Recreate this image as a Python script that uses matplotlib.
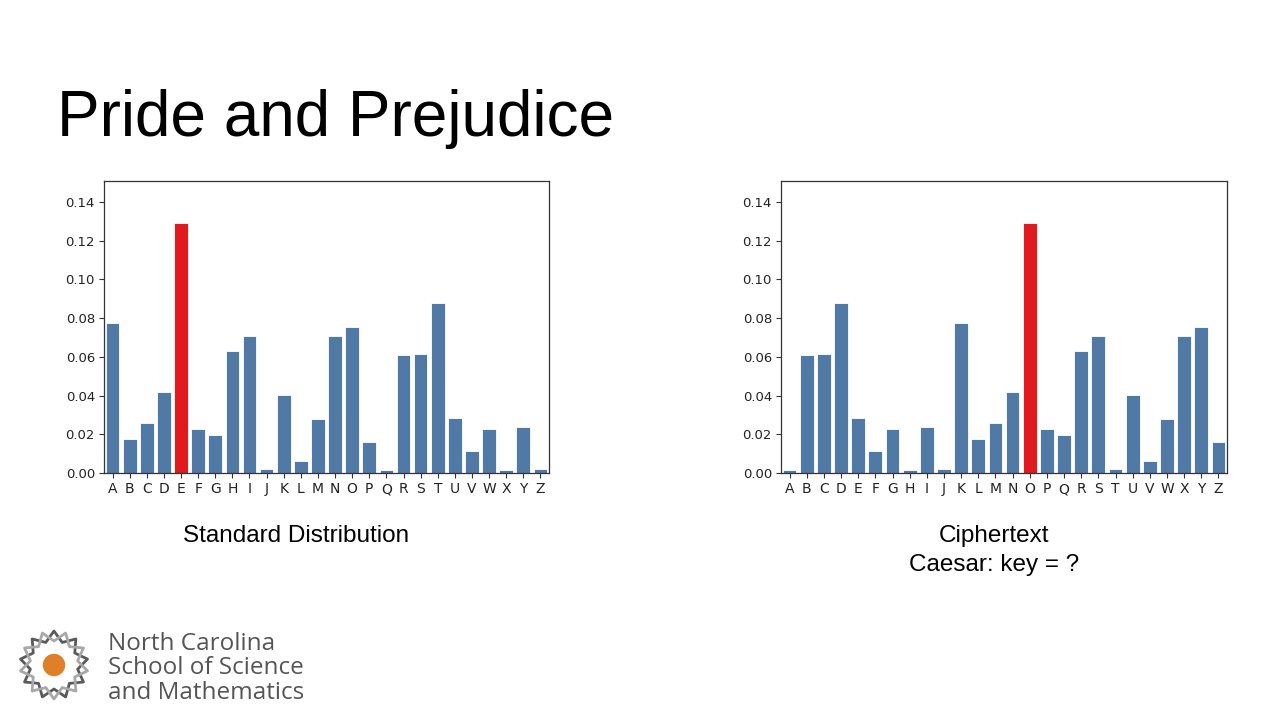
import numpy as np
import matplotlib
matplotlib.use("Agg")
import matplotlib.pyplot as plt
from matplotlib.patches import Polygon, Circle

letters = list("ABCDEFGHIJKLMNOPQRSTUVWXYZ")

# letter frequencies (Pride and Prejudice)
standard = [0.0775, 0.0176, 0.0257, 0.0417, 0.1292, 0.0229, 0.0195, 0.0630,
            0.0706, 0.0022, 0.0401, 0.0062, 0.0277, 0.0706, 0.0754, 0.0160,
            0.0014, 0.0610, 0.0616, 0.0878, 0.0284, 0.0112, 0.0229, 0.0014,
            0.0236, 0.0022]

# right chart (ciphertext)
cipher = [0.0014, 0.0610, 0.0616, 0.0878, 0.0284, 0.0112, 0.0229, 0.0014,
          0.0236, 0.0022, 0.0775, 0.0176, 0.0257, 0.0417, 0.1292, 0.0229,
          0.0195, 0.0630, 0.0706, 0.0022, 0.0401, 0.0062, 0.0277, 0.0706,
          0.0754, 0.0160]

yticks = [0.00, 0.02, 0.04, 0.06, 0.08, 0.10, 0.12, 0.14]

BLUE = "#5079a6"
RED = "#e01a1d"

fig = plt.figure(figsize=(12.8, 7.2), dpi=100)
fig.patch.set_facecolor("white")

fig.text(57 / 1280, 1 - 136 / 720, "Pride and Prejudice", fontsize=46,
         family="Liberation Sans", color="black", va="baseline")


def freq_plot(rect, vals):
    ax = fig.add_axes(rect)
    x = np.arange(len(letters))
    top = int(np.argmax(vals))
    colors = [RED if i == top else BLUE for i in x]
    ax.bar(x, vals, width=0.8, color=colors, edgecolor="white", linewidth=0.6)
    ax.set_xlim(-0.5, 25.5)
    ax.set_ylim(0, 0.1508)
    ax.set_xticks(x)
    ax.set_xticklabels(letters, fontsize=10, color="#222222")
    ax.set_yticks(yticks)
    ax.set_yticklabels([f"{v:.2f}" for v in yticks], fontsize=9.5, color="#222222")
    ax.tick_params(length=3.5, width=0.8, color="#333333", pad=3)
    for s in ax.spines.values():
        s.set_color("#333333")
        s.set_linewidth(0.9)
    return ax


freq_plot([104 / 1280, 1 - 473 / 720, 445 / 1280, 292 / 720], standard)
freq_plot([781 / 1280, 1 - 473 / 720, 446 / 1280, 292 / 720], cipher)

fig.text(296 / 1280, 1 - 536 / 720, "Standard Distribution", fontsize=17.5,
         family="Liberation Sans", ha="center", va="center")
fig.text(994 / 1280, 1 - 536 / 720, "Ciphertext", fontsize=17.5,
         family="Liberation Sans", ha="center", va="center")
fig.text(994 / 1280, 1 - 565 / 720, "Caesar: key = ?", fontsize=17.5,
         family="Liberation Sans", ha="center", va="center")

# logo
lax = fig.add_axes([0, 0, 1, 1], zorder=-1)
lax.set_xlim(0, 1280)
lax.set_ylim(720, 0)
lax.axis("off")
cx, cy = 54, 665
n = 9
for k, (off, col) in enumerate([(0.0, "#5a5a5a"), (np.pi / n, "#a8a8a8")]):
    pts = []
    for i in range(2 * n):
        ang = off + i * np.pi / n - np.pi / 2
        r = 34 if i % 2 == 0 else 24
        pts.append((cx + r * np.cos(ang), cy + r * np.sin(ang)))
    lax.add_patch(Polygon(pts, closed=True, fill=False, edgecolor=col,
                          linewidth=2.0, joinstyle="round"))
lax.add_patch(Circle((cx, cy), 10.5, color="#e07f2a"))

for i, line in enumerate(["North Carolina", "School of Science", "and Mathematics"]):
    fig.text(108 / 1280, 1 - (650 + 24.5 * i) / 720, line, fontsize=17.5,
             family="Open Sans", color="#555555", va="baseline")

plt.savefig("out.png", dpi=100)
